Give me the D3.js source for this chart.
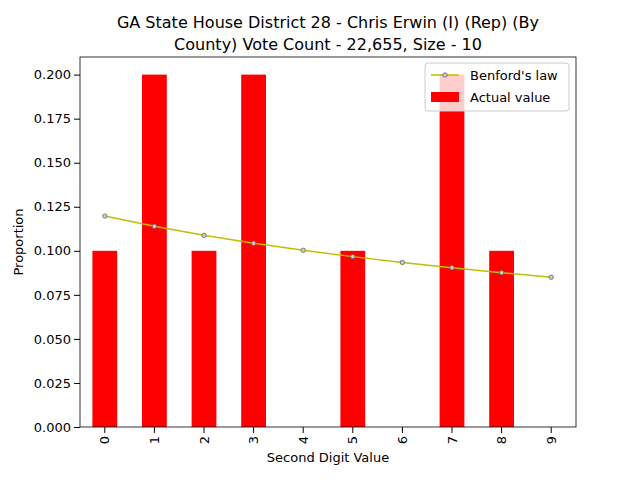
<!DOCTYPE html>
<html><head><script src="https://cdn.jsdelivr.net/npm/d3@7"></script>
<style>body{margin:0;background:#fff}text{font-family:"DejaVu Sans",sans-serif}</style></head>
<body><svg id="c" width="640" height="480"></svg>
<script>
const digits=["0","1","2","3","4","5","6","7","8","9"];
const actual=[0.1,0.2,0.1,0.2,0,0.1,0,0.2,0.1,0];
const benford=[0.1197,0.1139,0.1088,0.1043,0.1003,0.0967,0.0934,0.0904,0.0876,0.0850];
const yTicks=[0,0.025,0.05,0.075,0.1,0.125,0.15,0.175,0.2];
const svg=d3.select("#c");
const L=80,R=576,T=57,B=427;
const x=d3.scaleBand().domain(digits).range([L,R]).paddingInner(0.5).paddingOuter(0.25);
const y=d3.scaleLinear().domain([0,0.21]).range([B,T]);
svg.selectAll(".bar").data(actual).join("rect").attr("fill","red")
 .attr("x",(d,i)=>x(digits[i])).attr("width",x.bandwidth()).attr("y",d=>y(d)).attr("height",d=>B-y(d));
const cx=i=>x(digits[i])+x.bandwidth()/2;
svg.append("path").datum(benford).attr("fill","none").attr("stroke","#bfbf00").attr("stroke-width",1.5)
 .attr("d",d3.line().x((d,i)=>cx(i)).y(d=>y(d)));
svg.selectAll(".pt").data(benford).join("circle").attr("cx",(d,i)=>cx(i)).attr("cy",d=>y(d)).attr("r",2.2)
 .attr("fill","#ccc").attr("stroke","#666").attr("stroke-width",0.8);
const ya=svg.append("g").attr("transform",`translate(${L},0)`).call(d3.axisLeft(y).tickValues(yTicks).tickFormat(d3.format(".3f")).tickSizeOuter(0));
const xa=svg.append("g").attr("transform",`translate(0,${B})`).call(d3.axisBottom(x).tickSizeOuter(0));
xa.selectAll("text").attr("transform","rotate(-90)").attr("text-anchor","end").attr("x",-9).attr("y",0).attr("dy","0.35em");
[ya,xa].forEach(a=>{a.selectAll("text").attr("font-size",13).attr("fill","#000").attr("font-family","DejaVu Sans");a.select(".domain").remove();a.selectAll("line").attr("stroke","#000");});
svg.append("rect").attr("x",L).attr("y",T).attr("width",R-L).attr("height",B-T).attr("fill","none").attr("stroke","#000").attr("stroke-width",0.8);
svg.append("text").attr("x",328).attr("y",28).attr("text-anchor","middle").attr("font-size",16).text("GA State House District 28 - Chris Erwin (I) (Rep) (By");
svg.append("text").attr("x",328).attr("y",50).attr("text-anchor","middle").attr("font-size",16).text("County) Vote Count - 22,655, Size - 10");
svg.append("text").attr("x",328).attr("y",462).attr("text-anchor","middle").attr("font-size",13).text("Second Digit Value");
svg.append("text").attr("transform","translate(23,242) rotate(-90)").attr("text-anchor","middle").attr("font-size",13).text("Proportion");
const lg=svg.append("g");
lg.append("rect").attr("x",425).attr("y",63).attr("width",144).attr("height",48).attr("rx",3).attr("fill","#fff").attr("fill-opacity",0.8).attr("stroke","#ccc");
lg.append("line").attr("x1",431).attr("x2",459).attr("y1",75).attr("y2",75).attr("stroke","#bfbf00").attr("stroke-width",1.5);
lg.append("circle").attr("cx",445).attr("cy",75).attr("r",2.2).attr("fill","#ccc").attr("stroke","#666").attr("stroke-width",0.8);
lg.append("rect").attr("x",431).attr("y",92).attr("width",28).attr("height",10).attr("fill","red");
lg.append("text").attr("x",470).attr("y",80).attr("font-size",13).text("Benford's law");
lg.append("text").attr("x",470).attr("y",102).attr("font-size",13).text("Actual value");
</script></body></html>
